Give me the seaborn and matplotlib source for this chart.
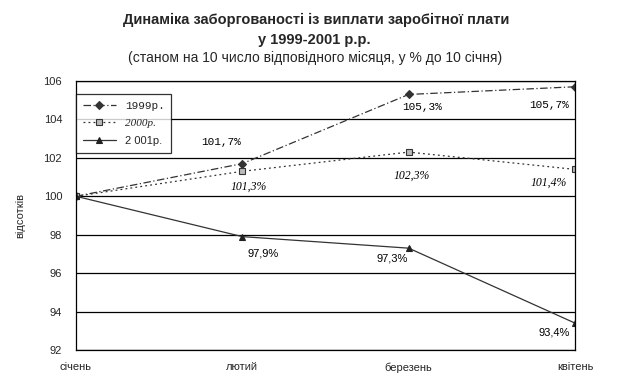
import numpy as np
import pandas as pd
import seaborn as sns
import matplotlib.pyplot as plt

months = ['січень', 'лютий', 'березень', 'квітень']
v1999 = [100.0, 101.7, 105.3, 105.7]
v2000 = [100.0, 101.3, 102.3, 101.4]
v2001 = [100.0, 97.9, 97.3, 93.4]
series_names = ['1999р.', '2000р.', '2 001р.']
# text of point labels (first month has none)
lab1999 = ['', '101,7%', '105,3%', '105,7%']
lab2000 = ['', '101,3%', '102,3%', '101,4%']
lab2001 = ['', '97,9%', '97,3%', '93,4%']

sns.set_style('white')
plt.rcParams['font.family'] = ['Liberation Sans', 'DejaVu Sans']

fig = plt.figure(figsize=(6.23, 3.82), dpi=100)
ax = fig.add_axes([76 / 623, 1 - 350 / 382, 499 / 623, 269 / 382])

x = np.arange(len(months))
styles = [
    dict(ls=(0, (6, 2, 1, 2)), marker='D', ms=4, mfc='#333333', mec='#333333'),
    dict(ls=(0, (1.5, 2.5)), marker='s', ms=5, mfc='#bbbbbb', mec='#333333'),
    dict(ls='-', marker='^', ms=5, mfc='#222222', mec='#222222'),
]
for vals, name, st in zip([v1999, v2000, v2001], series_names, styles):
    df = pd.DataFrame({'x': x, 'y': vals})
    sns.lineplot(data=df, x='x', y='y', ax=ax, color='#333333', lw=0.9,
                 label=name, markeredgewidth=0.8, **st)

# label fonts and offsets (pixels)
fonts = [dict(family='Liberation Mono', size=8),
         dict(family='Liberation Serif', style='italic', size=8.5),
         dict(family='Liberation Sans', size=8)]
offsets = [[None, (-21, 22), (13, -13), (-26, -18)],
           [None, (6, -15), (3, -24), (-26, -13)],
           [None, (21, -17), (-16, -10), (-21, -9)]]
for vals, labs, fnt, offs in zip([v1999, v2000, v2001], [lab1999, lab2000, lab2001], fonts, offsets):
    for i, (v, t) in enumerate(zip(vals, labs)):
        if t:
            ax.annotate(t, (x[i], v), xytext=offs[i], textcoords='offset pixels',
                        ha='center', va='center', color='black', **fnt)

ax.set_xlim(0, 3)
ax.set_ylim(92, 106)
ax.set_yticks(np.arange(92, 107, 2))
ax.set_xticks(x)
ax.set_xticklabels(months, fontsize=8)
ax.tick_params(axis='y', labelsize=8, direction='inout', length=6, width=0.8, pad=7)
ax.tick_params(axis='x', direction='inout', length=6, width=0.8, pad=6)
ax.grid(axis='y', color='black', lw=0.9)
for s in ax.spines.values():
    s.set_color('black')
    s.set_linewidth(0.9)
ax.set_xlabel('')
ax.set_ylabel('відсотків', fontsize=8)
ax.yaxis.set_label_coords(-0.102, 0.5)

leg = ax.legend(loc='upper left', bbox_to_anchor=(0.0, 0.952), frameon=True,
                fancybox=False, edgecolor='black', fontsize=8, handlelength=3.0,
                borderaxespad=0, borderpad=0.6, labelspacing=0.7)
leg.get_frame().set_linewidth(0.9)
ltexts = leg.get_texts()
ltexts[0].set_fontfamily('Liberation Mono')
ltexts[1].set_fontfamily('Liberation Serif')
ltexts[1].set_fontstyle('italic')

fig.text(0.507, 1 - 20 / 382, 'Динаміка заборгованості із виплати заробітної плати',
         ha='center', va='center', fontsize=10.5, fontweight='bold')
fig.text(0.505, 1 - 40 / 382, 'у 1999-2001 р.р.', ha='center', va='center',
         fontsize=10.5, fontweight='bold')
fig.text(0.506, 1 - 58 / 382, '(станом на 10 число відповідного місяця, у % до 10 січня)',
         ha='center', va='center', fontsize=10)

fig.savefig('out.png', dpi=100)
